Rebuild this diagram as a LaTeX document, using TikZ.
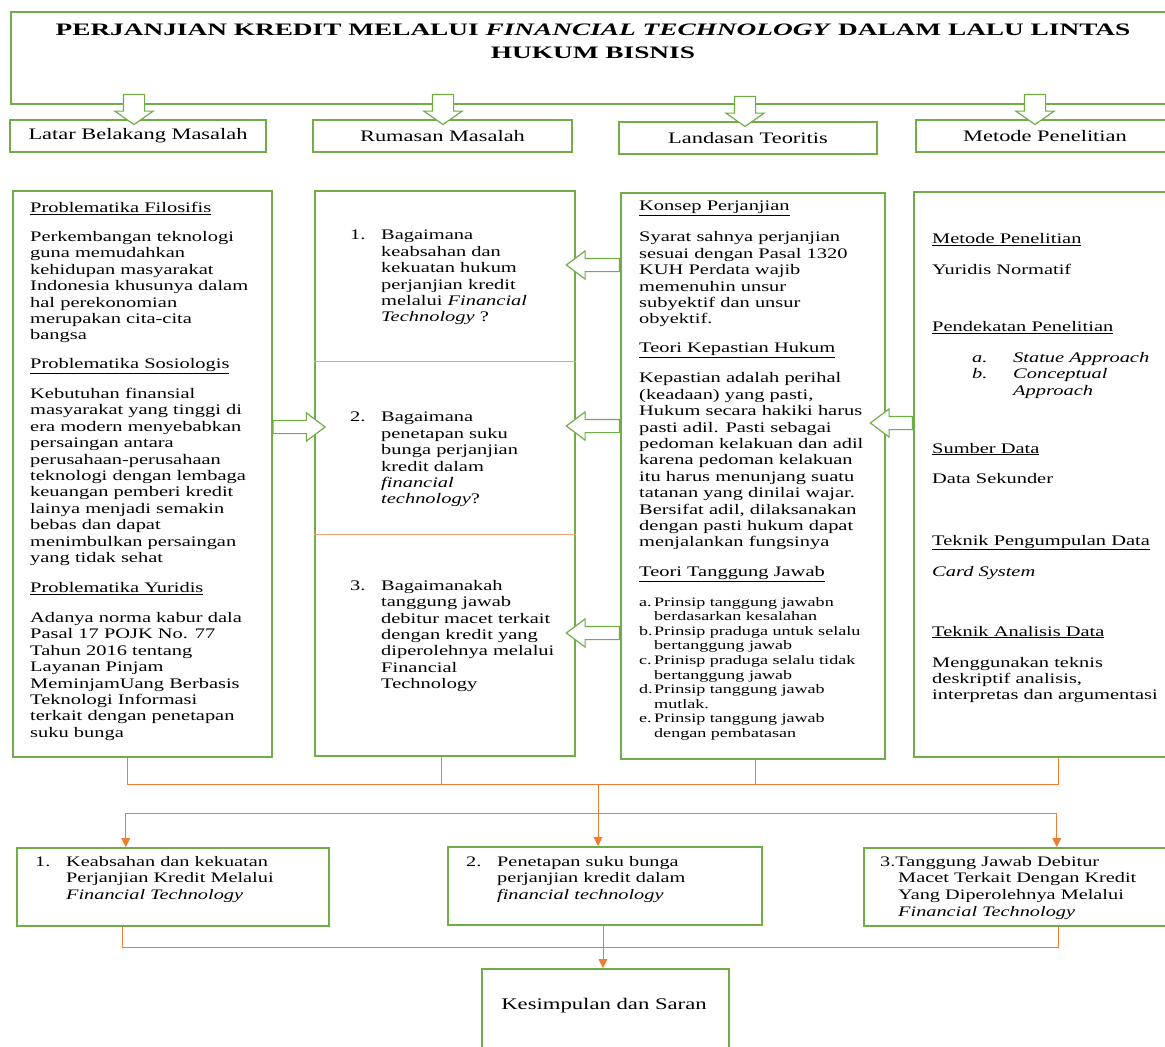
\documentclass[tikz,border=0pt]{standalone}
\usepackage{fontspec}
\setmainfont{Liberation Serif}[FakeStretch=1.4]
\newfontfamily\titlefont{Liberation Serif}[FakeStretch=1.56]
\usetikzlibrary{calc}
\usetikzlibrary{arrows.meta}
\usetikzlibrary{shapes.arrows}
\definecolor{box-green}{RGB}{112, 173, 71}
\definecolor{line-orange}{RGB}{237, 125, 49}

\newcommand{\bodyfs}{\fontsize{14.6}{16.4}\selectfont}
\newcommand{\headfs}{\fontsize{16}{18}\selectfont}
\newcommand{\listfs}{\fontsize{12.9}{14.6}\selectfont}
\newcommand{\botfs}{\fontsize{14.5}{16.7}\selectfont}
\newcommand{\itm}[1]{\makebox[31pt][l]{#1}}
\newcommand{\indt}{\hspace*{31pt}}
\newcommand{\lst}[1]{\makebox[15pt][l]{#1}}
\newcommand{\lsti}{\hspace*{15pt}}

\begin{document}
\begin{tikzpicture}[x=1pt, y=-1pt,
  greenbox/.style={draw=box-green, line width=1.5pt, fill=white, inner sep=0pt},
  hollow/.style={single arrow, draw=box-green, line width=1.2pt, fill=white, inner xsep=0pt, single arrow head indent=0pt},
  downarrow/.style={hollow, inner xsep=10pt, inner ysep=10pt, minimum height=30pt, minimum width=37pt, single arrow head extend=8.5pt, single arrow tip angle=110, shape border rotate=270},
  sidearrow/.style={hollow, inner ysep=6pt, minimum height=#1, minimum width=27pt, single arrow head extend=7.5pt, single arrow tip angle=74},
  txt/.style={anchor=north west, align=left, inner sep=0pt, font=\bodyfs},
  link/.style={draw=line-orange, line width=0.8pt},
  linkarrow/.style={link, -{Triangle[length=9pt, width=9pt]}},
  divider/.style={draw=line-orange!70, line width=0.7pt}]
\useasboundingbox (0,0) rectangle (1165,1047);
\clip (0,0) rectangle (1165,1047);
\fill[white] (0,0) rectangle (1165,1047);

% judul
\node[greenbox, anchor=north west, minimum width=1170pt, minimum height=92pt] (ttlbox) at (10,11) {};
\node[font=\titlefont\fontsize{17.5}{23}\selectfont\bfseries, align=center] (ttl) at (593,41.5)
  {PERJANJIAN KREDIT MELALUI \textit{FINANCIAL TECHNOLOGY} DALAM LALU LINTAS\\HUKUM BISNIS};

% kotak kepala
\node[greenbox, minimum width=256pt, minimum height=32pt, font=\headfs] (lbm) at (138,136) {Latar Belakang Masalah};
\node[greenbox, minimum width=259pt, minimum height=32pt, font=\headfs] (rm) at (442.5,136) {Rumasan Masalah};
\node[greenbox, minimum width=258pt, minimum height=32pt, font=\headfs] (lt) at (748,138) {Landasan Teoritis};
\node[greenbox, minimum width=258pt, minimum height=32pt, font=\headfs] (mp) at (1045,136) {Metode Penelitian};

\foreach \h/\x in {lbm/134, rm/443, lt/745, mp/1035}
  \node[downarrow, anchor=tip] (d\h) at ($(\x,0 |- \h.north)+(0,6)$) {};

% kolom
\node[greenbox, anchor=north west, minimum width=259pt, minimum height=566pt] (c1) at (12,190) {};
\node[greenbox, anchor=north west, minimum width=260pt, minimum height=565pt] (c2) at (314,190) {};
\node[greenbox, anchor=north west, minimum width=264pt, minimum height=566pt] (c3) at (620,192) {};
\node[greenbox, anchor=north west, minimum width=259pt, minimum height=565pt] (c4) at (913,191) {};

\draw[divider] (c2.west |- 0,361) -- (c2.east |- 0,361);
\draw[divider] (c2.west |- 0,534) -- (c2.east |- 0,534);

\node[txt] (t1) at (30,202) {\underline{Problematika Filosifis}\\[12.6pt]
  Perkembangan teknologi\\guna memudahkan\\kehidupan masyarakat\\Indonesia khusunya dalam\\hal perekonomian\\merupakan cita-cita\\bangsa\\[12.2pt]
  \underline{Problematika Sosiologis}\\[13.6pt]
  Kebutuhan finansial\\masyarakat yang tinggi di\\era modern menyebabkan\\persaingan antara\\perusahaan-perusahaan\\teknologi dengan lembaga\\keuangan pemberi kredit\\lainya menjadi semakin\\bebas dan dapat\\menimbulkan persaingan\\yang tidak sehat\\[13.6pt]
  \underline{Problematika Yuridis}\\[13.6pt]
  Adanya norma kabur dala\\Pasal 17 POJK No. 77\\Tahun 2016 tentang\\Layanan Pinjam\\MeminjamUang Berbasis\\Teknologi Informasi\\terkait dengan penetapan\\suku bunga};

\node[txt] (q1) at (350,230) {\itm{1.}Bagaimana\\\indt keabsahan dan\\\indt kekuatan hukum\\\indt perjanjian kredit\\\indt melalui \textit{Financial}\\\indt\textit{Technology} ?};
\node[txt] (q2) at (350,412) {\itm{2.}Bagaimana\\\indt penetapan suku\\\indt bunga perjanjian\\\indt kredit dalam\\\indt\textit{financial}\\\indt\textit{technology}?};
\node[txt] (q3) at (350,580) {\itm{3.}Bagaimanakah\\\indt tanggung jawab\\\indt debitur macet terkait\\\indt dengan kredit yang\\\indt diperolehnya melalui\\\indt Financial\\\indt Technology};

\node[txt] (t3) at (639,201) {\underline{Konsep Perjanjian}\\[14.6pt]
  Syarat sahnya perjanjian\\sesuai dengan Pasal 1320\\KUH Perdata wajib\\memenuhin unsur\\subyektif dan unsur\\obyektif.\\[12.6pt]
  \underline{Teori Kepastian Hukum}\\[13.6pt]
  Kepastian adalah perihal\\(keadaan) yang pasti,\\Hukum secara hakiki harus\\pasti adil. Pasti sebagai\\pedoman kelakuan dan adil\\karena pedoman kelakuan\\itu harus menunjang suatu\\tatanan yang dinilai wajar.\\Bersifat adil, dilaksanakan\\dengan pasti hukum dapat\\menjalankan fungsinya\\[13.6pt]
  \underline{Teori Tanggung Jawab}};
\node[txt, font=\listfs] (t3l) at (639,597) {\lst{a.}Prinsip tanggung jawabn\\\lsti berdasarkan kesalahan\\\lst{b.}Prinsip praduga untuk selalu\\\lsti bertanggung jawab\\\lst{c.}Prinisp praduga selalu tidak\\\lsti bertanggung jawab\\\lst{d.}Prinsip tanggung jawab\\\lsti mutlak.\\\lst{e.}Prinsip tanggung jawab\\\lsti dengan pembatasan};

\node[txt] (t4) at (932,233) {\underline{Metode Penelitian}\\[14.6pt]
  Yuridis Normatif\\[40.6pt]
  \underline{Pendekatan Penelitian}\\[14.6pt]
  \hspace*{40pt}\makebox[41pt][l]{\textit{a.}}\textit{Statue Approach}\\\hspace*{40pt}\makebox[41pt][l]{\textit{b.}}\textit{Conceptual}\\\hspace*{81pt}\textit{Approach}\\[41.6pt]
  \underline{Sumber Data}\\[13.6pt]
  Data Sekunder\\[45.6pt]
  \underline{Teknik Pengumpulan Data}\\[14.6pt]
  \textit{Card System}\\[43.6pt]
  \underline{Teknik Analisis Data}\\[14.6pt]
  Menggunakan teknis\\deskriptif analisis,\\interpretas dan argumentasi};

% panah antar kolom
\node[sidearrow=52pt, anchor=tail] (a12) at (c1.east |- 0,427) {};
\node[sidearrow=53pt, shape border rotate=180, anchor=tail] (a32a) at (c3.west |- 0,265) {};
\node[sidearrow=53pt, shape border rotate=180, anchor=tail] (a32b) at (c3.west |- 0,426) {};
\node[sidearrow=53pt, shape border rotate=180, anchor=tail] (a32c) at (c3.west |- 0,633) {};
\node[sidearrow=42pt, shape border rotate=180, anchor=tail] (a43) at (c4.west |- 0,423) {};

% hasil
\node[greenbox, anchor=north west, minimum width=312pt, minimum height=78pt] (b1) at (16,847) {};
\node[greenbox, anchor=north west, minimum width=314pt, minimum height=78pt] (b2) at (447,846) {};
\node[greenbox, anchor=north west, minimum width=312pt, minimum height=78pt] (b3) at (863,847) {};
\node[greenbox, anchor=north west, minimum width=247pt, minimum height=90pt] (ks) at (481,968) {};

\node[txt, font=\botfs] (tb1) at (35,856) {\itm{1.}Keabsahan dan kekuatan\\\indt Perjanjian Kredit Melalui\\\indt\textit{Financial Technology}};
\node[txt, font=\botfs] (tb2) at (466,856) {\itm{2.}Penetapan suku bunga\\\indt perjanjian kredit dalam\\\indt\textit{financial technology}};
\node[txt, font=\botfs] (tb3) at (880,856) {3.Tanggung Jawab Debitur\\\hspace*{18pt}Macet Terkait Dengan Kredit\\\hspace*{18pt}Yang Diperolehnya Melalui\\\hspace*{18pt}\textit{Financial Technology}};
\node[font=\fontsize{16.2}{18}\selectfont, inner sep=0pt] (kst) at (604,1006) {Kesimpulan dan Saran};

% garis oranye
\coordinate (j1) at (598,784);
\coordinate (j2) at (598,813);
\coordinate (j3) at (603,947);
\draw[link] ([xshift=-14.5pt]c1.south) |- (j1);
\draw[link] ([xshift=-3pt]c2.south) |- (j1);
\draw[link] ([xshift=3pt]c3.south) |- (j1);
\draw[link] ([xshift=15.5pt]c4.south) |- (j1);
\draw[link] (j1) -- (j2);
\draw[linkarrow] (j2) -| ([xshift=-47pt]b1.north);
\draw[linkarrow] (j2) -- (j2 |- b2.north);
\draw[linkarrow] (j2) -| ([xshift=37pt]b3.north);
\draw[link] ([xshift=-50pt]b1.south) |- (j3);
\draw[link] (b2.south -| j3) -- (j3);
\draw[link] ([xshift=39pt]b3.south) |- (j3);
\draw[linkarrow] (j3) -- (j3 |- ks.north);
\end{tikzpicture}
\end{document}
